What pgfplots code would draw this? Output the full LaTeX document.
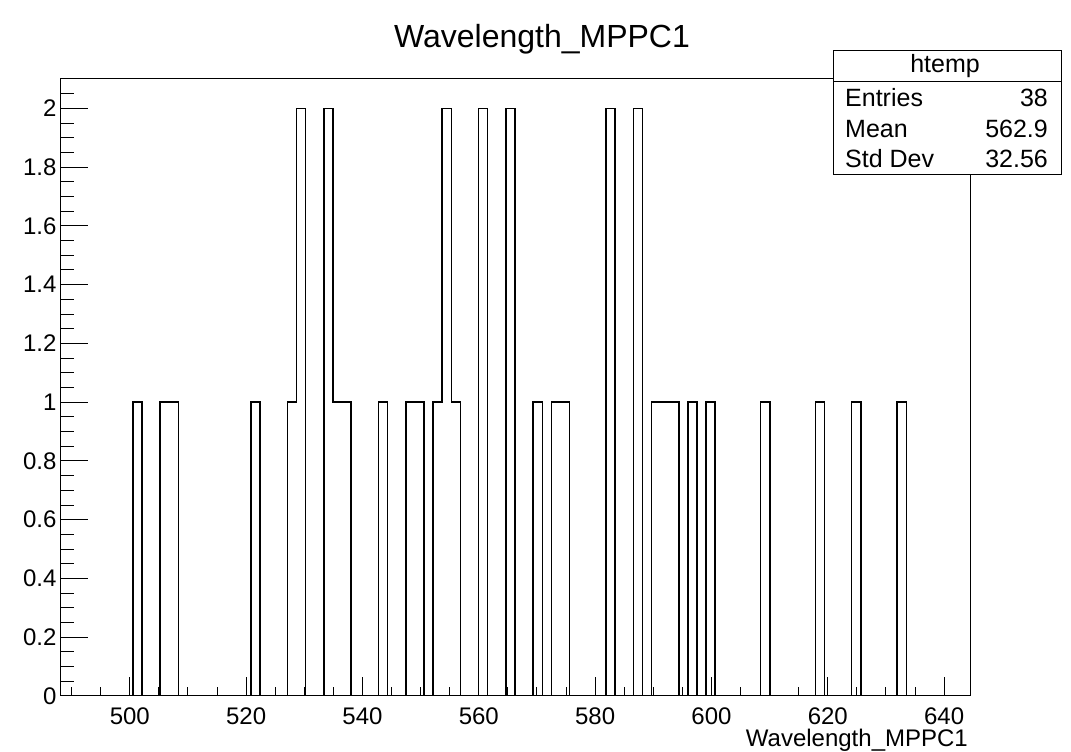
\documentclass[border=0pt]{standalone}
\usepackage{pgfplots}
\pgfplotsset{compat=1.18}
\usepackage{fontspec}
\setmainfont{Liberation Sans}
\begin{document}
\begin{tikzpicture}[x=1pt,y=1pt]
\useasboundingbox (0,0) rectangle (1071,752);
\begin{axis}[
  at={(60pt,56pt)}, anchor=south west, scale only axis,
  width=910pt, height=617pt,
  xmin=488, xmax=644.444, ymin=0, ymax=2.1,
  xtick={500,520,540,560,580,600,620,640},
  minor xtick={490,495,...,640},
  ytick={0,0.2,0.4,0.6,0.8,1,1.2,1.4,1.6,1.8,2},
  minor ytick={0,0.05,...,2.06},
  tick align=inside, xtick pos=bottom, ytick pos=left,
  xtick style={/pgfplots/major tick length=18.5pt,/pgfplots/minor tick length=9.3pt,line width=1pt,black},
  ytick style={/pgfplots/major tick length=27.5pt,/pgfplots/minor tick length=14pt,line width=1pt,black},
  axis line style={line width=1pt,black},
  /pgf/number format/assume math mode=true,
  ticklabel style={font=\fontsize{24}{24}\selectfont},
  xticklabel style={yshift=-8pt},
  scaled ticks=false,
]
\addplot[const plot, black, line width=1.5pt] coordinates {
(488,0) (500.516,1) (502.080,0) (505.209,1) (508.338,0) (520.853,1) (522.418,0)
(527.111,1) (528.675,2) (530.240,0) (533.369,2) (534.933,1) (538.062,0)
(542.755,1) (544.320,0) (547.449,1) (550.578,0) (552.142,1) (553.706,2)
(555.271,1) (556.835,0) (559.964,2) (561.529,0) (564.658,2) (566.222,0)
(569.351,1) (570.915,0) (572.480,1) (575.609,0) (581.866,2) (583.431,0)
(586.560,2) (588.124,0) (589.689,1) (594.382,0) (595.946,1) (597.511,0)
(599.075,1) (600.640,0) (608.462,1) (610.026,0) (617.849,1) (619.413,0)
(624.106,1) (625.671,0) (631.928,1) (633.493,0) (644.444,0)
};
\end{axis}
% title
\node[font=\fontsize{32}{32}\selectfont, anchor=base] at (542,704) {Wavelength\_MPPC1};
% x axis title
\node[font=\fontsize{24}{24}\selectfont, anchor=base east, inner sep=0pt] at (968,5) {Wavelength\_MPPC1};
% stats box
\filldraw[fill=white, draw=black, line width=1pt] (833.3,577.7) rectangle (1061,701);
\draw[line width=1pt] (833.3,670.3) -- (1061,670.3);
\node[font=\fontsize{25}{25}\selectfont, anchor=base, inner sep=0pt] at (945,679) {htemp};
\node[font=\fontsize{25}{25}\selectfont, anchor=base west, inner sep=0pt] at (845,645) {Entries};
\node[font=\fontsize{25}{25}\selectfont, anchor=base west, inner sep=0pt] at (845,614) {Mean};
\node[font=\fontsize{25}{25}\selectfont, anchor=base west, inner sep=0pt] at (845,584) {Std Dev};
\node[font=\fontsize{25}{25}\selectfont, anchor=base east, inner sep=0pt] at (1048,645) {38};
\node[font=\fontsize{25}{25}\selectfont, anchor=base east, inner sep=0pt] at (1048,614) {562.9};
\node[font=\fontsize{25}{25}\selectfont, anchor=base east, inner sep=0pt] at (1048,584) {32.56};
\end{tikzpicture}
\end{document}
